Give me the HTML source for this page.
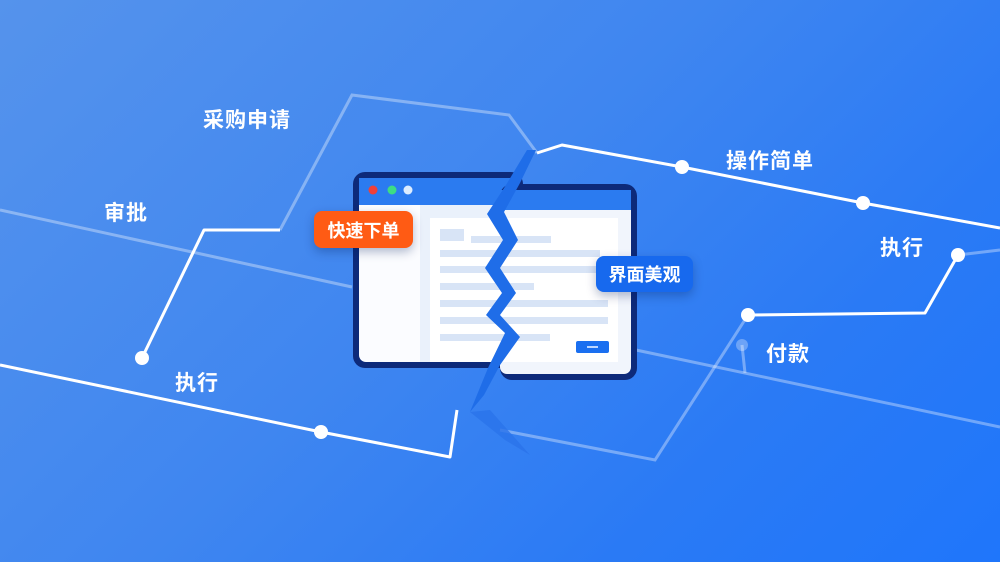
<!DOCTYPE html>
<html><head><meta charset="utf-8"><style>
html,body{margin:0;padding:0}
body{width:1000px;height:562px;overflow:hidden;position:relative;font-family:"Liberation Sans","Noto Sans CJK SC",sans-serif;background:linear-gradient(135deg,#5593ec 0%,#3f86f0 45%,#2a7af5 75%,#1f76fb 100%)}
.lbl{position:absolute;color:#fff;font-size:21px;font-weight:bold;letter-spacing:1px;white-space:nowrap}
.badge{position:absolute;color:#fff;font-size:18px;font-weight:bold;border-radius:8px;display:flex;align-items:center;justify-content:center;box-shadow:0 4px 10px rgba(0,30,90,.3)}
</style></head><body>
<svg width="1000" height="562" style="position:absolute;left:0;top:0">
 <g fill="none" stroke="rgba(255,255,255,0.35)" stroke-width="3">
  <polyline points="280,230 352,95 509,115 537,153"/>
  <polyline points="0,210 352,287"/>
  <polyline points="500,430 655,460 748,315"/>
  <polyline points="636,350 1000,427"/>
  <polyline points="742,345 745,373"/>
  <polyline points="958,255 1000,250"/>
 </g>
 <circle cx="742" cy="345" r="6" fill="rgba(255,255,255,0.3)"/>
 <g fill="none" stroke="#fff" stroke-width="3" stroke-linejoin="round">
  <polyline points="142,358 204,230 280,230"/>
  <polyline points="0,365 321,432 450,457 457,410"/>
  <polyline points="537,153 562,145 682,167 863,203 1000,228"/>
  <polyline points="748,315 925,313 958,255"/>
 </g>
 <g fill="#fff">
  <circle cx="142" cy="358" r="7"/><circle cx="321" cy="432" r="7"/>
  <circle cx="682" cy="167" r="7"/><circle cx="863" cy="203" r="7"/>
  <circle cx="748" cy="315" r="7"/><circle cx="958" cy="255" r="7"/>
 </g>
 <rect x="353" y="172" width="170" height="196" rx="12" fill="#0d2a7a"/>
 <rect x="359" y="178" width="160" height="184" rx="7" fill="#fbfcff"/>
 <rect x="359" y="178" width="160" height="27" fill="#2b7bf0"/>
 <rect x="420" y="205" width="99" height="157" fill="#eaf1fb"/>
 <rect x="500" y="184" width="137" height="196" rx="12" fill="#0d2a7a"/>
 <rect x="500" y="190" width="131" height="184" rx="7" fill="#f1f5fc"/>
 <rect x="500" y="190" width="131" height="20" fill="#2b7bf0"/>
 <rect x="430" y="218" width="188" height="144" fill="#fff"/>
 <g fill="#d8e4f6">
  <rect x="440" y="229" width="24" height="12"/><rect x="471" y="236" width="80" height="7"/>
  <rect x="440" y="250" width="160" height="7"/><rect x="440" y="266" width="166" height="7"/>
  <rect x="440" y="283" width="94" height="7"/><rect x="440" y="300" width="168" height="7"/>
  <rect x="440" y="317" width="168" height="7"/><rect x="440" y="334" width="110" height="7"/>
 </g>
 <rect x="576" y="341" width="33" height="12" rx="2" fill="#1a6ff0"/>
 <rect x="587" y="346" width="11" height="2" fill="#bcd6ff"/>
 <circle cx="373" cy="190" r="4.5" fill="#f0403a"/><circle cx="392" cy="190" r="4.5" fill="#3ddc84"/><circle cx="408" cy="190" r="4.5" fill="#dcecff"/>
 <polygon points="527,150 536,150 520,183 504,212 518,240 500,268 516,293 500,315 520,337 500,365 484,395 470,412 488,368 505,333 486,315 502,293 485,268 503,240 487,214 506,185" fill="#1f6de8"/>
 <polygon points="470,412 490,410 530,455 505,440" fill="#2b73ea" opacity=".8"/>
</svg>
<div class="badge" style="left:314px;top:211px;width:99px;height:37px;background:#ff5b14">快速下单</div>
<div class="badge" style="left:596px;top:256px;width:97px;height:36px;background:#1769ee">界面美观</div>
<div class="lbl" style="left:203px;top:104px">采购申请</div>
<div class="lbl" style="left:104px;top:197px">审批</div>
<div class="lbl" style="left:175px;top:367px">执行</div>
<div class="lbl" style="left:726px;top:145px">操作简单</div>
<div class="lbl" style="left:880px;top:232px">执行</div>
<div class="lbl" style="left:766px;top:338px">付款</div>
</body></html>
